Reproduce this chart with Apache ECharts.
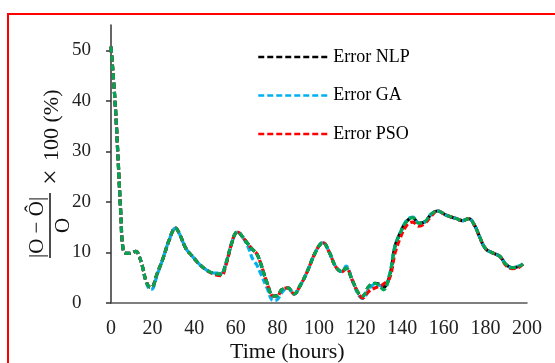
<!DOCTYPE html>
<html>
<head>
<meta charset="utf-8">
<script src="https://cdn.jsdelivr.net/npm/echarts@6/dist/echarts.min.js"></script>
<style>
	html, body { margin: 0; padding: 0; background: #fff; }
	#chart { position: absolute; left: 0; top: 0; width: 555px; height: 363px; }
	#frame { position: absolute; left: 7px; top: 13px; width: 600px; height: 400px; border: 2px solid #f00; pointer-events: none; }
</style>
</head>
<body>
<div id="chart"></div>
<div id="frame"></div>
<script>
const hours = [0, 2, 3.5, 4.7, 6, 8, 10, 12, 13, 15, 17, 19, 20, 22, 25, 28, 31, 33, 36, 39,
	42, 46, 50, 53, 55, 58, 60, 61, 63, 66, 68, 70, 72, 75, 78, 80, 82, 85, 88, 91,
	94, 98, 101, 102, 105, 108, 111, 113, 116, 119, 121, 124, 127, 129, 131, 134, 136.5, 139, 142, 145,
	148, 151, 154, 157, 161, 166, 169, 172, 175, 177, 180, 184, 187, 190, 193, 196, 198]

const errorGreen = [50.7, 39.5, 27.7, 17.8, 10.2, 9.8, 9.9, 10.2, 9.8, 7.4, 4.2, 3.1, 3.2, 5.6, 8.8, 12.5, 14.8, 13.6, 10.8, 9.3,
	7.9, 6.5, 5.8, 5.7, 7.5, 11.8, 13.9, 14.0, 13.2, 11.6, 10.6, 9.8, 7.8, 4.0, 1.4, 1.4, 2.6, 3.0, 1.8, 3.5,
	5.9, 9.8, 11.8, 11.9, 10.0, 7.2, 6.2, 6.9, 4.5, 1.9, 1.4, 3.3, 3.9, 3.4, 2.6, 5.6, 11.1, 13.8, 16.1, 16.9,
	15.8, 16.1, 17.6, 18.2, 17.4, 16.7, 16.3, 16.7, 15.2, 13.3, 10.8, 9.8, 9.2, 7.6, 7.0, 7.2, 7.7]

const errorNLP = [50.7, 39.5, 27.7, 17.8, 10.2, 9.8, 9.9, 10.2, 9.8, 7.4, 4.2, 3.1, 3.2, 5.6, 8.8, 12.5, 14.8, 13.6, 10.8, 9.3,
	7.9, 6.5, 5.8, 5.7, 7.5, 11.8, 13.9, 14.0, 13.2, 11.6, 10.6, 9.8, 7.8, 4.0, 1.4, 1.4, 2.6, 3.0, 1.8, 3.5,
	5.9, 9.8, 11.8, 11.9, 10.0, 7.2, 6.2, 6.9, 4.5, 1.9, 1.4, 3.3, 3.9, 3.7, 3.1, 5.4, 11.1, 13.8, 16.1, 16.9,
	15.8, 16.1, 17.6, 18.2, 17.4, 16.7, 16.3, 16.7, 15.2, 13.3, 10.8, 9.8, 9.2, 7.6, 7.0, 7.2, 7.7]

const errorGA = [50.7, 39.5, 27.7, 17.8, 10.2, 9.8, 9.9, 10.2, 9.8, 7.4, 4.0, 2.7, 2.8, 5.3, 8.8, 12.5, 14.8, 13.6, 10.8, 9.3,
	7.9, 6.5, 5.9, 5.9, 7.5, 11.8, 13.9, 14.0, 13.2, 11.0, 8.8, 7.6, 5.8, 3.0, 0.5, 0.7, 2.0, 3.0, 1.8, 3.5,
	5.9, 9.8, 11.8, 11.9, 10.0, 7.2, 6.2, 7.3, 4.5, 1.6, 0.9, 2.8, 3.7, 3.5, 3.2, 5.8, 11.3, 13.8, 16.3, 17.0,
	15.8, 16.1, 17.6, 18.2, 17.4, 16.7, 16.3, 16.7, 15.2, 13.3, 10.8, 9.8, 9.2, 7.6, 7.0, 7.3, 7.7]

const errorPSO = [50.7, 39.5, 27.7, 17.8, 10.2, 9.8, 9.9, 10.2, 9.8, 7.4, 4.2, 3.1, 3.2, 5.6, 8.8, 12.5, 14.8, 13.6, 10.8, 9.3,
	7.9, 6.5, 5.6, 5.4, 7.1, 11.8, 13.9, 14.0, 13.2, 11.6, 10.6, 9.8, 7.8, 4.0, 1.4, 1.4, 2.6, 3.0, 1.8, 3.5,
	5.9, 9.8, 11.8, 11.9, 10.0, 7.2, 6.2, 6.9, 4.5, 1.9, 1.0, 2.3, 3.0, 3.3, 3.7, 5.0, 9.8, 12.8, 15.3, 16.0,
	15.2, 15.8, 17.2, 18.2, 17.4, 16.7, 16.3, 16.7, 15.2, 13.3, 10.8, 9.8, 9.2, 7.4, 6.8, 7.0, 7.7]

const xTicks = [0, 20, 40, 60, 80, 100, 120, 140, 160, 180, 200]
const yTicks = [0, 10, 20, 30, 40, 50]
const legendNames = ['Error NLP', 'Error GA', 'Error PSO']

const serif = '"Liberation Serif", "Times New Roman", serif'
const dash = [6, 3]

const pairs = (values) => hours.map((h, i) => [h, values[i]])

const makeSeries = (name, values, color) => ({
	name: name,
	type: 'line',
	data: pairs(values),
	symbol: 'none',
	smooth: 0.4,
	silent: true,
	lineStyle: { color: color, width: 3.2, type: dash },
	itemStyle: { color: color }
})

const chart = echarts.init(document.getElementById('chart'), null, { renderer: 'canvas' })

const option = {
	animation: false,
	grid: { left: 111, right: 28, top: 25, bottom: 60, containLabel: false, outerBoundsMode: 'none' },
	legend: {
		data: legendNames,
		orient: 'vertical',
		left: 252,
		top: 43,
		itemWidth: 70,
		itemHeight: 14,
		itemGap: 20.5,
		itemStyle: { opacity: 0 },
		lineStyle: { width: 2.5 },
		textStyle: { fontFamily: serif, fontSize: 18, color: '#000' }
	},
	xAxis: {
		type: 'value',
		min: 0,
		max: 200,
		interval: 20,
		axisLine: { lineStyle: { color: '#555', width: 1.5 } },
		axisTick: { show: false },
		splitLine: { show: false },
		axisLabel: { customValues: xTicks, margin: 16, fontFamily: serif, fontSize: 20, color: '#222' }
	},
	yAxis: {
		type: 'value',
		min: 0,
		max: 55,
		interval: 10,
		axisLine: { show: true, lineStyle: { color: '#333', width: 1.5 } },
		axisTick: { show: true, customValues: yTicks, length: 5, lineStyle: { color: '#333', width: 1.5 } },
		splitLine: { show: false },
		axisLabel: { customValues: yTicks, align: 'left', margin: 39, fontFamily: serif, fontSize: 19, color: '#222' }
	},
	graphic: [
		{
			type: 'text',
			left: 230,
			top: 341,
			style: { text: 'Time (hours)', font: '22px ' + serif, fill: '#111' }
		},
		{
			type: 'group',
			x: 50,
			y: 258,
			rotation: Math.PI / 2,
			children: [
				{ type: 'text', x: 0, y: -13, style: { text: '|O − Ô|', font: '21px ' + serif, fill: '#111', align: 'left', verticalAlign: 'middle' } },
				{ type: 'line', shape: { x1: 0, y1: 0, x2: 65, y2: 0 }, style: { stroke: '#111', lineWidth: 1.5 } },
				{ type: 'text', x: 32.5, y: 13, style: { text: 'O', font: '21px ' + serif, fill: '#111', align: 'center', verticalAlign: 'middle' } },
				{ type: 'text', x: 81, y: 2, style: { text: '×', font: '28px ' + serif, fill: '#111', align: 'center', verticalAlign: 'middle' } },
				{ type: 'text', x: 97, y: 2, style: { text: '100 (%)', font: '22px ' + serif, fill: '#111', align: 'left', verticalAlign: 'middle' } }
			]
		}
	],
	series: [
		makeSeries('Error NLP', errorNLP, '#000000'),
		makeSeries('Error GA', errorGA, '#00B0F0'),
		makeSeries('Error PSO', errorPSO, '#FF0000'),
		makeSeries('Error', errorGreen, '#00A651')
	]
}

chart.setOption(option)
</script>
</body>
</html>
